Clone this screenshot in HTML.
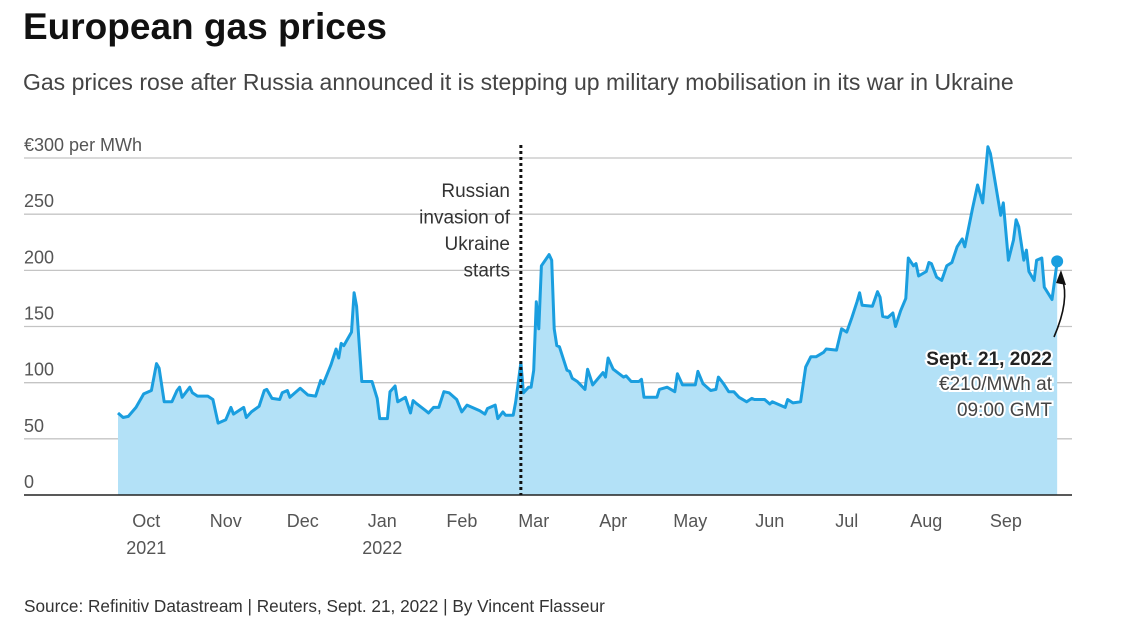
<!DOCTYPE html>
<html><head><meta charset="utf-8"><style>
body{margin:0;background:#fff;width:1136px;height:632px;overflow:hidden;font-family:"Liberation Sans",sans-serif}
svg text{font-family:"Liberation Sans",sans-serif}
</style></head><body>
<svg id="chart" width="1136" height="632" viewBox="0 0 1136 632" xmlns="http://www.w3.org/2000/svg">
<text x="23" y="39" font-size="37" font-weight="bold" fill="#111">European gas prices</text>
<text x="23" y="90" font-size="23" fill="#444">Gas prices rose after Russia announced it is stepping up military mobilisation in its war in Ukraine</text>
<g id="grid"></g>
<g id="series"></g>
<g id="xaxis"></g>
<g id="annot"></g>
<text x="24" y="612" font-size="17.2" fill="#333">Source: Refinitiv Datastream | Reuters, Sept. 21, 2022 | By Vincent Flasseur</text>
</svg>
<script>
// days since 2021-09-20
const days=[0,2,4,7,10,13,15,16,18,21,23,24,25,28,29,31,35,37,39,42,44,45,49,50,52,55,57,58,60,63,64,66,67,71,74,77,79,80,83,85,86,87,88,91,92,93,95,99,101,102,105,106,108,109,112,114,115,116,120,121,123,125,127,129,132,134,136,141,143,144,147,148,150,151,154,155,157,158,160,161,162,163,164,165,168,169,170,171,172,175,176,177,179,182,183,185,189,190,191,193,197,198,200,203,204,205,210,211,214,217,218,220,225,226,228,231,233,234,236,238,240,242,245,247,248,252,254,255,260,261,263,266,268,270,272,275,276,280,282,284,286,288,289,290,294,296,297,298,300,302,303,305,307,308,310,311,312,315,316,317,319,321,323,325,327,329,330,333,335,337,339,340,343,344,345,347,349,350,351,353,354,355,357,358,360,361,364,366];
const prices=[73,69,70,78,90,93,117,113,83,83,93,96,87,96,91,88,88,85,64,67,78,72,78,69,74,79,93,94,86,85,91,93,87,95,89,88,102,99,116,130,122,135,133,145,180,168,101,101,86,68,68,92,97,83,87,73,84,82,75,73,78,78,92,91,85,74,80,75,72,77,80,68,74,71,71,83,118,91,96,96,111,172,148,204,214,209,148,133,132,111,110,104,101,94,112,98,109,105,122,112,105,106,101,101,103,87,87,94,96,92,108,98,98,110,99,93,94,105,99,92,92,87,83,86,85,85,81,83,78,85,82,83,114,123,123,127,130,129,148,145,158,172,180,169,168,181,176,159,158,162,150,164,175,211,204,206,195,199,207,206,194,191,204,207,221,228,221,255,276,260,310,304,263,249,260,209,227,245,239,209,218,199,191,209,211,185,174,208];
const yTicks=[0,50,100,150,200,250];
const monthLabels=["Oct","Nov","Dec","Jan","Feb","Mar","Apr","May","Jun","Jul","Aug","Sep"];
const monthDays=[11,42,72,103,134,162,193,223,254,284,315,346];
const yearLabels=["2021","2022"];
const yearDays=[11,103];
const invasionDay=157;

const NS="http://www.w3.org/2000/svg";
const x=d=>118+d*2.566;
const y=v=>495-v*1.1233;
function mk(tag,parent,attrs){const e=document.createElementNS(NS,tag);for(const k in attrs)e.setAttribute(k,attrs[k]);parent.appendChild(e);return e;}
const grid=document.getElementById('grid');
yTicks.concat([300]).forEach((t,i)=>{
  if(t>0){const l=mk('line',grid,{x1:24,x2:1072,y1:y(t),y2:y(t),stroke:'#c4c4c4','stroke-width':1.3});
  
  }
});
yTicks.forEach(t=>{
  const tx=mk('text',grid,{x:24,y:y(t)-7,'font-size':18,fill:'#555'});
  tx.textContent=String(t);
  
  
});
const yl=mk('text',grid,{x:24,y:y(300)-7,'font-size':18,fill:'#555'});
yl.textContent='€300 per MWh';



const s=document.getElementById('series');
let pts=days.map((d,i)=>x(d).toFixed(1)+','+y(prices[i]).toFixed(1));
const area=mk('path',s,{d:'M'+x(days[0])+','+y(0)+' L'+pts.join(' L')+' L'+x(days[days.length-1])+','+y(0)+'Z',fill:'#b3e1f7'});


const line=mk('path',s,{d:'M'+pts.join(' L'),fill:'none',stroke:'#1a9edf','stroke-width':3,'stroke-linejoin':'round'});


const last=days.length-1;
const dot=mk('circle',s,{cx:x(days[last]),cy:y(prices[last]),r:6,fill:'#1a9edf'});



const xa=document.getElementById('xaxis');
const base=mk('line',xa,{x1:24,x2:1072,y1:y(0),y2:y(0),stroke:'#222','stroke-width':1.5});


monthLabels.forEach((m,i)=>{
  const t=mk('text',xa,{x:x(monthDays[i]),y:527,'font-size':18,fill:'#555','text-anchor':'middle'});
  t.textContent=m;
  
  
});
yearLabels.forEach((m,i)=>{
  const t=mk('text',xa,{x:x(yearDays[i]),y:554,'font-size':18,fill:'#555','text-anchor':'middle'});
  t.textContent=m;
  
  
});

const an=document.getElementById('annot');
const inv=mk('line',an,{x1:x(invasionDay),x2:x(invasionDay),y1:145,y2:495,stroke:'#111','stroke-width':3,'stroke-dasharray':'3,3'});


["Russian","invasion of","Ukraine","starts"].forEach((w,i)=>{
  const t=mk('text',an,{x:510,y:197+i*26.5,'font-size':19,fill:'#333','text-anchor':'end'});
  t.textContent=w;
  
  
});
const arr=mk('path',an,{d:'M1054,337 Q1070,300 1062,278',fill:'none',stroke:'#111','stroke-width':1.6});


const head=mk('path',an,{d:'M1061,270 L1066,285 L1056,283 Z',fill:'#111'});


[["Sept. 21, 2022",'bold',365],["€210/MWh at",'normal',390],["09:00 GMT",'normal',416]].forEach(([w,fw,yy])=>{
  const t=mk('text',an,{x:1052,y:yy,'font-size':19,'font-weight':fw,fill:fw==='bold'?'#222':'#444','text-anchor':'end',stroke:'#fff','stroke-width':4,'paint-order':'stroke'});
  t.textContent=w;
  
  
});
</script>
</body></html>
